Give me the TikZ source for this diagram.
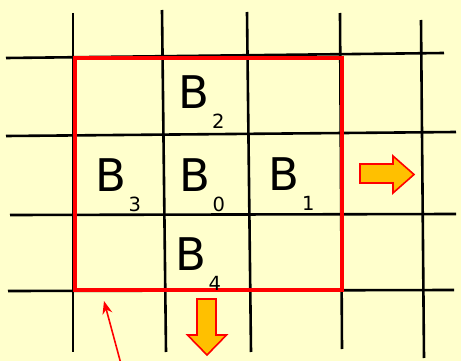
\documentclass[tikz,border=0pt]{standalone}
\usepackage{fontspec}
\setmainfont{DejaVu Sans}
\usetikzlibrary{arrows.meta}
\definecolor{bgyellow}{RGB}{255,255,204}
\definecolor{gridred}{RGB}{255,0,0}
\definecolor{arrorange}{RGB}{255,192,0}
\tikzset{
  gridline/.style={line width=2.6pt, black},
  window/.style={line width=4.2pt, gridred},
  blockarrow/.style={fill=arrorange, draw=gridred, line width=1.6pt, line join=miter},
  blabel/.style={inner sep=0pt, anchor=base west, font=\fontsize{45}{45}\selectfont},
  pointer/.style={gridred, line width=1.6pt, -{Stealth[length=13pt,width=10pt]}}
}
\newcommand{\blk}[1]{B\kern2.5pt\raisebox{-20pt}{\fontsize{19.5}{19.5}\selectfont #1}}
\begin{document}
\begin{tikzpicture}[x=1pt,y=-1pt]
\fill[bgyellow] (0,0) rectangle (461,361);
\useasboundingbox (0,0) rectangle (461,361);
% grid
\draw[gridline] (73,13) -- (73,352);
\draw[gridline] (162,10) -- (166,352);
\draw[gridline] (247,12) -- (251,352);
\draw[gridline] (340,13) -- (342,349);
\draw[gridline] (421,20) -- (424,358);
\draw[gridline] (6,58) -- (444,53);
\draw[gridline] (6,136) -- (456,132);
\draw[gridline] (10,215) -- (456,214);
\draw[gridline] (8,291) -- (454,290);
% window
\draw[window] (75,58) rectangle (342,290);
% labels
\node[blabel] (b2) at (178.5,109) {\blk{2}};
\node[blabel] (b3) at (95,191) {\blk{3}};
\node[blabel] (b0) at (179,191) {\blk{0}};
\node[blabel] (b1) at (268.5,190) {\blk{1}};
\node[blabel] (b4) at (175,270) {\blk{4}};
% block arrows
\draw[blockarrow] (360,164) -- (393,164) -- (393,156) -- (414,174.5) -- (393,193) -- (393,183) -- (360,183) -- cycle;
\draw[blockarrow] (197,299) -- (216,299) -- (216,335) -- (226.5,335) -- (207,355) -- (187.5,335) -- (197,335) -- cycle;
% pointer
\coordinate (ptail) at (121,364);
\coordinate (ptip) at (104,301);
\draw[pointer] (ptail) -- (ptip);
\end{tikzpicture}
\end{document}
